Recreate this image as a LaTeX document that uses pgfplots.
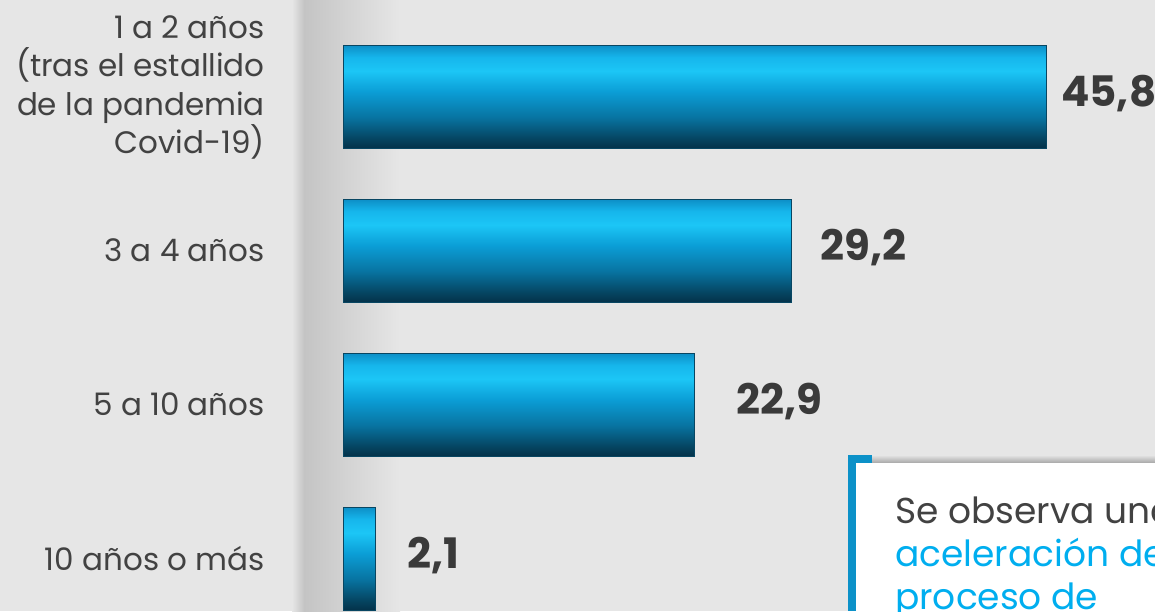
\documentclass[border=0pt]{standalone}
\usepackage{pgfplots}
\pgfplotsset{compat=1.18}
\usepackage{fontspec}
\setmainfont{Poppins}
\definecolor{bg}{RGB}{230,230,230}
\definecolor{shad}{RGB}{196,196,196}
\definecolor{lbl}{RGB}{66,66,66}
\definecolor{val}{RGB}{58,58,58}
\definecolor{cyanT}{RGB}{0,174,239}
\definecolor{boxblue}{RGB}{12,145,200}
\definecolor{bedge}{RGB}{8,70,98}
\definecolor{bA}{RGB}{4,50,74}
\definecolor{bB}{RGB}{5,66,94}
\definecolor{bC}{RGB}{8,116,162}
\definecolor{bD}{RGB}{11,158,214}
\definecolor{bE}{RGB}{28,198,246}
\definecolor{bF}{RGB}{22,182,236}
\definecolor{bG}{RGB}{13,142,198}
\pgfdeclareverticalshading{barshade}{100bp}{%
  color(0bp)=(bA); color(25bp)=(bA); color(29bp)=(bB); color(40bp)=(bC);
  color(52.5bp)=(bD); color(62.5bp)=(bE); color(69bp)=(bF); color(75bp)=(bG);
  color(100bp)=(bG)}
\pgfplotsset{cylbar/.style={xbar, bar width=103pt, bar shift=0pt, shading=barshade, draw=bedge, line width=1pt}}
\begin{document}
\begin{tikzpicture}
\useasboundingbox (0pt,0pt) rectangle (1155pt,611pt);
\clip (0pt,0pt) rectangle (1155pt,611pt);
\fill[bg] (0pt,0pt) rectangle (1155pt,611pt);
\shade[left color=bg, right color=shad] (292pt,0pt) rectangle (304pt,611pt);
\shade[left color=shad, right color=bg] (304pt,0pt) rectangle (400pt,611pt);
\begin{axis}[
  at={(343pt,0pt)}, anchor=south west,
  scale only axis, width=812pt, height=611pt,
  xmin=0, xmax=52.9, ymin=-0.627, ymax=3.341, y dir=reverse,
  hide x axis,
  axis y line=left, y axis line style={draw=none},
  major tick length=0pt,
  ytick={-0.06,1,2,3},
  yticklabels={{1 a 2 años\\(tras el estallido\\de la pandemia\\Covid-19)},{3 a 4 años},{5 a 10 años},{10 años o más}},
  yticklabel style={font=\fontsize{31}{38.5}\selectfont, text=lbl, align=right, anchor=east, inner sep=0pt, xshift=-78pt},
  clip=false,
]
\addplot[cylbar] coordinates {(45.8,0)};
\addplot[cylbar] coordinates {(29.2,1)};
\addplot[cylbar] coordinates {(22.9,2)};
\addplot[cylbar] coordinates {(2.1,3)};
\node[anchor=base west, font=\fontsize{42}{42}\selectfont\bfseries, text=val, inner sep=0pt, xshift=15pt, yshift=-10pt] at (axis cs:45.8,0) {45,8};
\node[anchor=base west, font=\fontsize{42}{42}\selectfont\bfseries, text=val, inner sep=0pt, xshift=29pt, yshift=-10pt] at (axis cs:29.2,1) {29,2};
\node[anchor=base west, font=\fontsize{42}{42}\selectfont\bfseries, text=val, inner sep=0pt, xshift=42pt, yshift=-10pt] at (axis cs:22.9,2) {22,9};
\node[anchor=base west, font=\fontsize{42}{42}\selectfont\bfseries, text=val, inner sep=0pt, xshift=32pt, yshift=-10pt] at (axis cs:2.1,3) {2,1};
\end{axis}
% callout box
\shade[top color=bg, bottom color=black!35] (856pt,148pt) rectangle (1155pt,156pt);
\fill[white] (856pt,0pt) rectangle (1155pt,148pt);
\fill[boxblue] (848pt,0pt) rectangle (856pt,156pt);
\fill[boxblue] (848pt,148pt) rectangle (872pt,156pt);
\node[anchor=base west, inner sep=0pt, font=\fontsize{36}{36}\selectfont, text=lbl] at (895pt,88pt) {Se observa una};
\node[anchor=base west, inner sep=0pt, font=\fontsize{36}{36}\selectfont, text=cyanT] at (895pt,45pt) {aceleración del};
\node[anchor=base west, inner sep=0pt, font=\fontsize{36}{36}\selectfont, text=cyanT] at (895pt,2pt) {proceso de};
\end{tikzpicture}
\end{document}
